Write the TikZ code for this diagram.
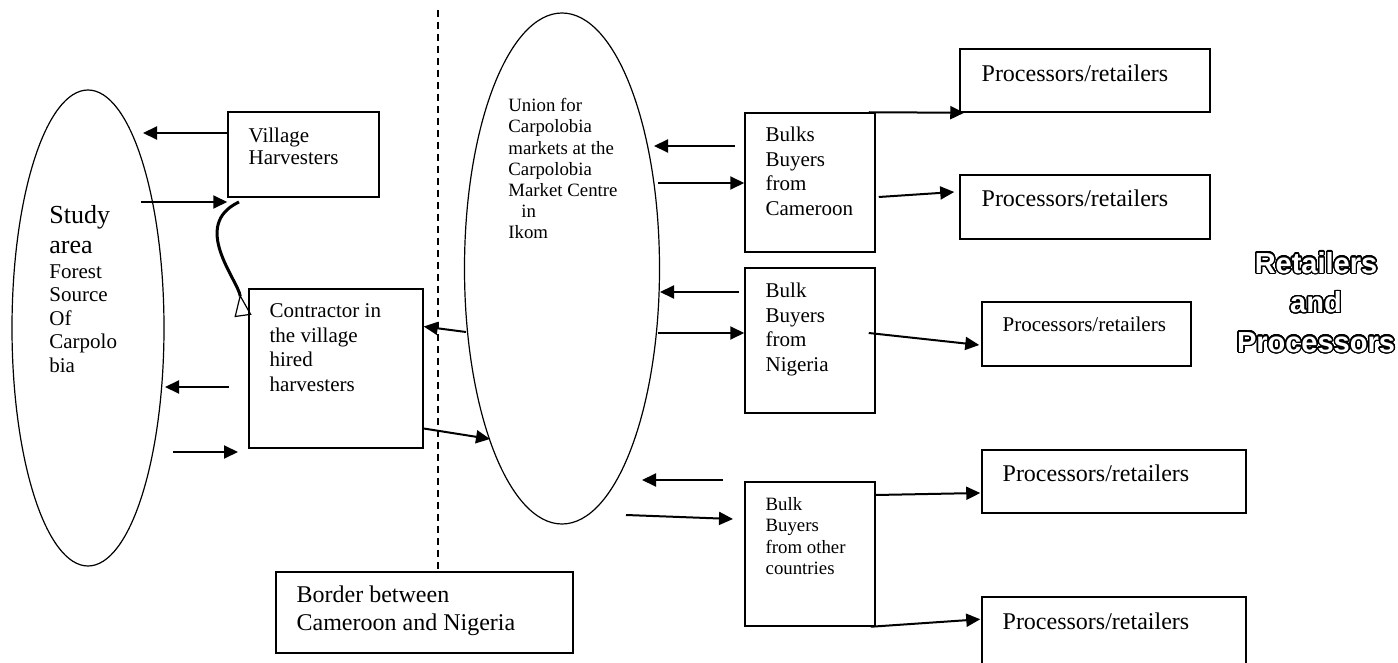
\documentclass[tikz,border=0pt]{standalone}
\usepackage{fontspec}
\setmainfont{Liberation Serif}
\newfontfamily\headfont{Liberation Sans}
\usepackage{contour}
\contourlength{0.7pt}
\contournumber{32}
\usetikzlibrary{arrows.meta,shapes.geometric}

\newcommand{\hollow}[1]{\contour{black}{\textcolor{white}{#1}}}
\newcommand{\bigline}{\fontsize{13}{15}\selectfont}

\tikzset{
	box/.style={draw, line width=0.75pt, inner sep=0pt},
	oval/.style={draw, ellipse, line width=0.6pt, inner sep=0pt},
	txt/.style={inner sep=0pt, align=left, anchor=base west},
	mid/.style={font=\fontsize{10.5}{12.3}\selectfont},
	little/.style={font=\fontsize{9.4}{10.6}\selectfont},
	big/.style={font=\fontsize{12}{14}\selectfont},
	flow/.style={->, line width=1pt},
}

\begin{document}
\begin{tikzpicture}[x=0.5pt,y=-0.5pt,>={Triangle[length=7pt,width=6.5pt]}]
	\useasboundingbox (0,0) rectangle (1398,663);

	% The two ovals
	\node[oval, minimum width=76pt, minimum height=238pt] (src) at (88,328) {};
	\node[oval, minimum width=97.5pt, minimum height=255.5pt] (uni) at (562,268.5) {};

	% The boxes
	\node[box, minimum width=75.5pt, minimum height=42.5pt] (vh) at (303.5,154.5) {};
	\node[box, minimum width=87pt, minimum height=79.5pt] (con) at (336,368.5) {};
	\node[box, minimum width=148.5pt, minimum height=40.5pt] (bor) at (424.5,612.5) {};
	\node[box, minimum width=65pt, minimum height=69.5pt] (bcm) at (810,182.5) {};
	\node[box, minimum width=65pt, minimum height=72.5pt] (bng) at (810,340.5) {};
	\node[box, minimum width=65pt, minimum height=72pt] (bot) at (810,554) {};
	\node[box, minimum width=125pt, minimum height=31.5pt] (p1) at (1085,80.5) {};
	\node[box, minimum width=125pt, minimum height=32pt] (p2) at (1085,207) {};
	\node[box, minimum width=104.5pt, minimum height=32pt] (p3) at (1086.5,334) {};
	\node[box, minimum width=132pt, minimum height=31.5pt] (p4) at (1114,481.5) {};
	\node[box, minimum width=132pt, minimum height=45pt] (p5) at (1114,642) {};

	% The texts (placed at the baseline of their last line)
	\node[txt, font=\fontsize{10.5}{11.75}\selectfont] (srctxt) at ([shift={(-39,44)}]src.center)
		{\bigline Study\\[3pt]\bigline area\\[0.75pt]Forest\\Source\\Of\\Carpolo\\bia};
	\node[txt, little] (unitxt) at ([shift={(-54,-29.5)}]uni.center)
		{Union for\\Carpolobia\\markets at the\\Carpolobia\\Market Centre\\\hspace*{6.5pt}in\\Ikom};
	\node[txt, font=\fontsize{10.5}{11}\selectfont] (vhtxt) at ([shift={(21,53)}]vh.north west) {Village\\Harvesters};
	\node[txt, mid] (contxt) at ([shift={(21,103)}]con.north west) {Contractor in\\the village\\hired\\harvesters};
	\node[txt, big] (bortxt) at ([shift={(21,59)}]bor.north west) {Border between\\Cameroon and Nigeria};
	\node[txt, mid] (bcmtxt) at ([shift={(21,103)}]bcm.north west) {Bulks\\Buyers\\from\\Cameroon};
	\node[txt, mid] (bngtxt) at ([shift={(21,104)}]bng.north west) {Bulk\\Buyers\\from\\Nigeria};
	\node[txt, little] (bottxt) at ([shift={(21,93)}]bot.north west) {Bulk\\Buyers\\from other\\countries};
	\node[txt, big] (p1txt) at ([shift={(22,33)}]p1.north west) {Processors/retailers};
	\node[txt, big] (p2txt) at ([shift={(22,32)}]p2.north west) {Processors/retailers};
	\node[txt, mid] (p3txt) at ([shift={(21,30)}]p3.north west) {Processors/retailers};
	\node[txt, big] (p4txt) at ([shift={(21,32)}]p4.north west) {Processors/retailers};
	\node[txt, big] (p5txt) at ([shift={(21,33)}]p5.north west) {Processors/retailers};
	\node[inner sep=0pt, align=center, anchor=base, font=\headfont\bfseries\fontsize{14.5}{19.75}\selectfont] (ret) at (1316,352)
		{\hollow{Retailers}\\\hollow{and}\\\hollow{Processors}};

	% The border line
	\coordinate (dtop) at (438,10);
	\draw[dashed, dash pattern=on 3.5pt off 2.5pt, line width=0.6pt] (dtop) -- (dtop |- bor.north);

	% Free ends of the arrows
	\coordinate (a1) at (143,133);
	\coordinate (a2) at (141,202);
	\coordinate (a3) at (165,387);
	\coordinate (a4) at (229,387);
	\coordinate (a5) at (173,452);
	\coordinate (a6) at (238,452);
	\coordinate (c1) at (239,202);
	\coordinate (c2) at (243,316);
	\coordinate (u1) at (466,332);
	\coordinate (u2) at (490,439);
	\coordinate (k1) at (735,146);
	\coordinate (k2) at (654,146);
	\coordinate (k3) at (658,183);
	\coordinate (k4) at (739,292);
	\coordinate (k5) at (660,292);
	\coordinate (k6) at (658,333);
	\coordinate (k7) at (723,480);
	\coordinate (k8) at (642,480);
	\coordinate (k9) at (626,515);
	\coordinate (k10) at (733,519);

	% Left side
	\draw[flow] (vh.west |- a1) -- (a1);
	\draw[flow] (a2) -- (vh.south west |- a2);
	\draw[line width=1.5pt, -{Triangle[open,reversed,length=11pt,width=8.5pt,line width=0.6pt]}]
		(c1) .. controls (190,225) and (238,280) .. (c2);
	\draw[flow] (a4) -- (a3);
	\draw[flow] (a5) -- (a6);
	\draw[flow] (u1) -- ([yshift=21pt]con.east);
	\draw[flow] ([yshift=-30pt]con.east) -- (u2);

	% Union and the bulk buyers
	\draw[flow] (k1) -- (k2);
	\draw[flow] (k3) -- (bcm.west |- k3);
	\draw[flow] (k4) -- (k5);
	\draw[flow] (k6) -- (bng.west |- k6);
	\draw[flow] (k7) -- (k8);
	\draw[flow] (k9) -- (k10);

	% Bulk buyers to processors
	\draw[flow] ([xshift=-3.5pt]bcm.north east) -- ([xshift=2.5pt]p1.south west);
	\draw[flow] ([shift={(3,14.5)}]bcm.east) -- ([shift={(-5,-15)}]p2.west);
	\draw[flow] ([shift={(-7,-7.5)}]bng.east) -- ([shift={(-2,11)}]p3.west);
	\draw[flow] ([shift={(0,-59)}]bot.east) -- ([shift={(-1,11.5)}]p4.west);
	\draw[flow] ([shift={(-5,0)}]bot.south east) -- ([shift={(-1,23)}]p5.north west);
\end{tikzpicture}
\end{document}
